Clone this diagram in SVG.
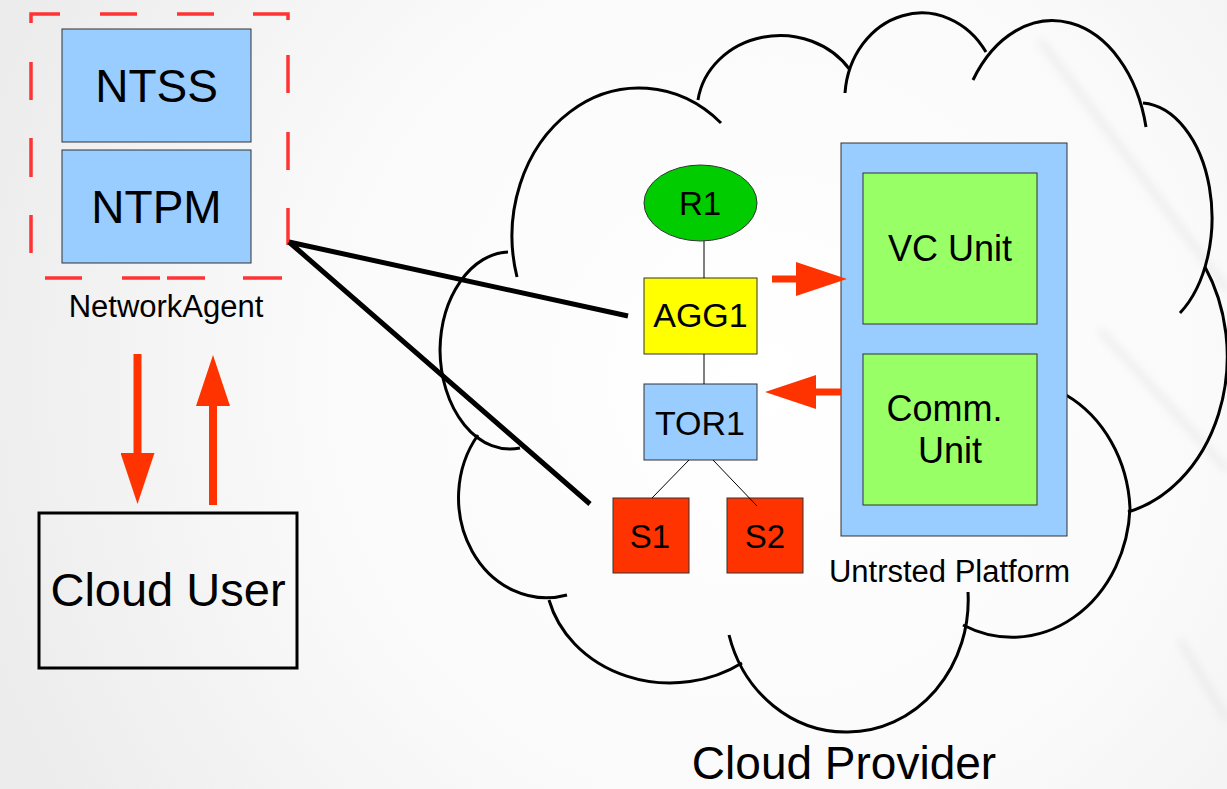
<svg xmlns="http://www.w3.org/2000/svg" width="1227" height="789" viewBox="0 0 1227 789">
  <defs>
    <radialGradient id="bg" cx="760" cy="380" r="820" gradientUnits="userSpaceOnUse">
      <stop offset="0" stop-color="#ffffff"/>
      <stop offset="0.55" stop-color="#fafafa"/>
      <stop offset="1" stop-color="#ececec"/>
    </radialGradient>
    <filter id="soft" x="-20%" y="-20%" width="140%" height="140%">
      <feGaussianBlur stdDeviation="4"/>
    </filter>
    <marker id="head" viewBox="0 0 51 34" refX="0" refY="17" markerWidth="51" markerHeight="34" markerUnits="userSpaceOnUse" orient="auto">
      <path d="M0,0 L51,17 L0,34 Z" fill="#ff3300"/>
    </marker>
    <style>
      .lbl { font-family: "Liberation Sans", Arial, sans-serif; fill: #000; text-anchor: middle; }
      .blue { fill: #99ccff; stroke: #333333; stroke-width: 1; }
      .green { fill: #99ff66; stroke: #333333; stroke-width: 1; }
      .red { fill: #ff3300; stroke: #333333; stroke-width: 1; }
      .dash { fill: none; stroke: #ff3333; stroke-width: 3.5; }
      .cloud { fill: none; stroke: #000; stroke-width: 3; stroke-linecap: butt; }
      .thin { stroke: #000; stroke-width: 1; fill: none; }
      .thick { stroke: #000; stroke-width: 5; fill: none; }
      .flow { stroke: #ff3300; fill: none; marker-end: url(#head); }
    </style>
  </defs>

  <!-- backdrop -->
  <rect x="0" y="0" width="1227" height="789" fill="url(#bg)"/>
  <g opacity="0.35" filter="url(#soft)" stroke="#cfcfcf" stroke-width="6" fill="none">
    <path d="M1040,40 L1227,290"/>
    <path d="M1100,330 L1227,470"/>
    <path d="M1180,640 L1227,720"/>
  </g>

  <!-- cloud outline: one arc per lobe -->
  <g id="cloud">
    <path class="cloud" d="M517,277 A127,148 0 0 1 721,123"/>
    <path class="cloud" d="M698,100 A83,75 0 0 1 850,70"/>
    <path class="cloud" d="M845,93 A77,87 0 0 1 986,52"/>
    <path class="cloud" d="M973,80 A96,136 0 0 1 1146,127"/>
    <path class="cloud" d="M1143,103 A73,115 0 0 1 1180,313"/>
    <path class="cloud" d="M1205,267 A130,160 0 0 1 1128,512"/>
    <path class="cloud" d="M1066,395 A118,135 0 0 1 1130,508 A118,135 0 0 1 963,625"/>
    <path class="cloud" d="M968,592 A121,132 0 0 1 848,732 A121,132 0 0 1 729,635"/>
    <path class="cloud" d="M742,663 A125,110 0 0 1 549,600"/>
    <path class="cloud" d="M567,595 A88,100 0 0 1 478,435"/>
    <path class="cloud" d="M520,448 A70,100 0 0 1 440,350 A70,100 0 0 1 508,252"/>
    <text class="lbl" x="844" y="779" font-size="46">Cloud Provider</text>
  </g>

  <!-- network agent -->
  <g id="network-agent">
    <path class="dash" d="M31,23 V14 H60 M100,14 H137 M177,14 H214 M253,14 H288 V20 M288,55 V93 M288,132 V170 M288,208 V245 M31,62 V100 M31,138 V177 M31,215 V253 M45,278 H82 M122,278 H160 M167,278 H205 M243,278 H282"/>
    <text class="lbl" x="166" y="317" font-size="31">NetworkAgent</text>
  </g>
  <g id="ntss">
    <rect class="blue" x="62" y="29" width="189" height="113"/>
    <text class="lbl" x="156.5" y="102" font-size="46">NTSS</text>
  </g>
  <g id="ntpm">
    <rect class="blue" x="62" y="150" width="189" height="113"/>
    <text class="lbl" x="156.5" y="223" font-size="46">NTPM</text>
  </g>

  <!-- cloud user -->
  <g id="cloud-user">
    <rect x="39" y="513" width="258" height="155" fill="none" stroke="#000" stroke-width="3"/>
    <text class="lbl" x="168" y="606" font-size="47">Cloud User</text>
  </g>

  <!-- switching fabric -->
  <g id="r1">
    <ellipse cx="700.5" cy="203" rx="56.5" ry="38" fill="#00cc00" stroke="#333333" stroke-width="1"/>
    <text class="lbl" x="700" y="215" font-size="33">R1</text>
  </g>
  <g id="agg1">
    <rect x="644" y="278" width="113" height="76" fill="#ffff00" stroke="#333333" stroke-width="1"/>
    <text class="lbl" x="700.5" y="327" font-size="34">AGG1</text>
  </g>
  <g id="tor1">
    <rect class="blue" x="644" y="384" width="113" height="76"/>
    <text class="lbl" x="700" y="435" font-size="34">TOR1</text>
  </g>
  <g id="s1">
    <rect class="red" x="613" y="498" width="76" height="75"/>
    <text class="lbl" x="650" y="548" font-size="33">S1</text>
  </g>
  <g id="s2">
    <rect class="red" x="727" y="498" width="76" height="75"/>
    <text class="lbl" x="765" y="548" font-size="33">S2</text>
  </g>

  <!-- untrusted platform -->
  <g id="platform">
    <rect class="blue" x="841" y="143" width="226" height="393"/>
    <text class="lbl" x="949.5" y="582" font-size="31">Untrsted Platform</text>
  </g>
  <g id="vc-unit">
    <rect class="green" x="863" y="173" width="174" height="151"/>
    <text class="lbl" x="950" y="261" font-size="36">VC Unit</text>
  </g>
  <g id="comm-unit">
    <rect class="green" x="863" y="354" width="174" height="151"/>
    <text class="lbl" font-size="36"><tspan x="944.5" y="421">Comm.</tspan><tspan x="950" y="463">Unit</tspan></text>
  </g>

  <!-- links and flows -->
  <g id="connectors">
    <path class="thin" d="M704,241 V278 M704,354 V384 M689,460 L652,498 M713,460 L757,506"/>
    <path class="thick" d="M289,242 L628,316 M289,242 L590,504"/>
    <path class="flow" stroke-width="8" d="M137.5,354 V453"/>
    <path class="flow" stroke-width="8" d="M213,505 V406"/>
    <path class="flow" stroke-width="7" d="M772,279 H796"/>
    <path class="flow" stroke-width="7" d="M841,392 H816"/>
  </g>
</svg>
